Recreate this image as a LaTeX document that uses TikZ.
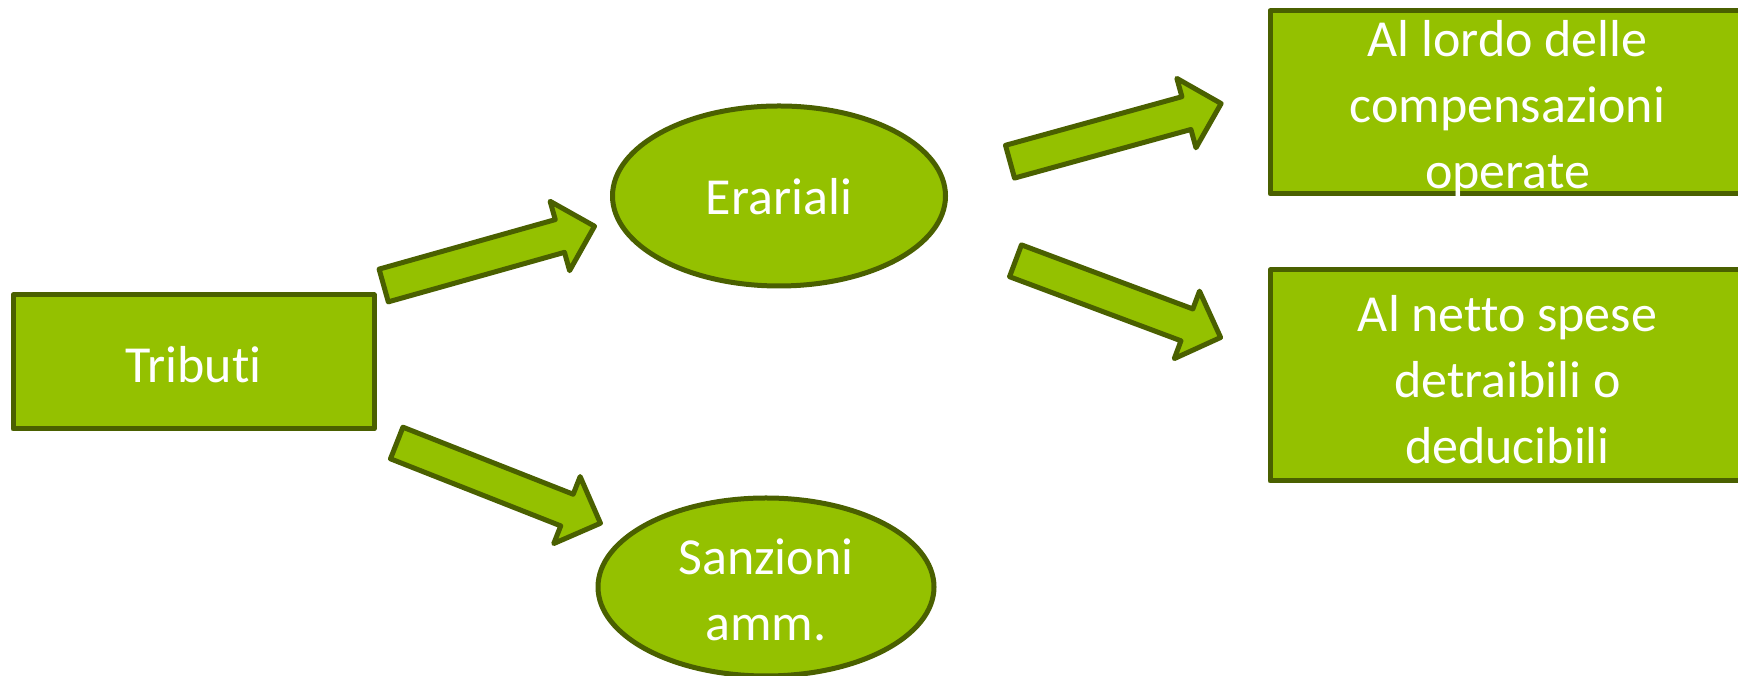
\documentclass[tikz,border=0pt]{standalone}
\usepackage{fontspec}
\setmainfont{Carlito}[Ligatures=NoCommon]
\usetikzlibrary{shapes.geometric}
\definecolor{leaf}{HTML}{94C100}
\definecolor{moss}{HTML}{4A6000}
\tikzset{
  shapeline/.style={draw=moss, fill=leaf, line width=5pt, line join=round},
  boxshape/.style={shapeline, rectangle, inner sep=0pt},
  ovalshape/.style={shapeline, ellipse, inner sep=0pt,
    minimum width=333pt, minimum height=180pt},
  caption/.style={text=white, align=center, inner sep=0pt,
    font=\fontsize{52}{66}\selectfont},
  % broad block arrow, tail centre at the pic origin, pointing along +x
  blockarrow/.pic={
    \draw[shapeline] (0,-17) -- (183,-17) -- (183,-36) -- (219,0)
      -- (183,36) -- (183,17) -- (0,17) -- cycle;
  }
}
\begin{document}
\begin{tikzpicture}[x=1pt, y=1pt]
  \clip (0,0) rectangle (1738,676);
  \useasboundingbox (0,0) rectangle (1738,676);

  % source box
  \node[boxshape, minimum width=361pt, minimum height=134pt] (tributi) at (193.5,314) {};
  \node[caption] (tributi-txt) at (193.5,311) {Tributi};

  % middle column
  \node[ovalshape] (erariali) at (779,480) {};
  \node[caption] (erariali-txt) at (779,479) {Erariali};
  \node[ovalshape, minimum width=336pt, minimum height=178pt] (sanzioni) at (766,89) {};
  \node[caption] (sanzioni-txt) at (766,86) {Sanzioni\\amm.};

  % right column, running past the right edge
  \node[boxshape, minimum width=475pt, minimum height=183pt] (lordo) at (1507.5,573.7) {};
  \node[caption] (lordo-txt) at (1507.5,567) {Al lordo delle\\compensazioni\\operate};
  \node[boxshape, minimum width=475pt, minimum height=211pt] (netto) at (1507.5,300.5) {};
  \node[caption] (netto-txt) at (1507.5,296) {Al netto spese\\detraibili o\\deducibili};

  % block arrows between the columns
  \pic[rotate=15.7]  at (383.7,390.5)  {blockarrow};
  \pic[rotate=-21.5] at (396.7,233)    {blockarrow};
  \pic[rotate=15.4]  at (1010,514.3)   {blockarrow};
  \pic[rotate=-20.5] at (1015.5,415.2) {blockarrow};
\end{tikzpicture}
\end{document}
